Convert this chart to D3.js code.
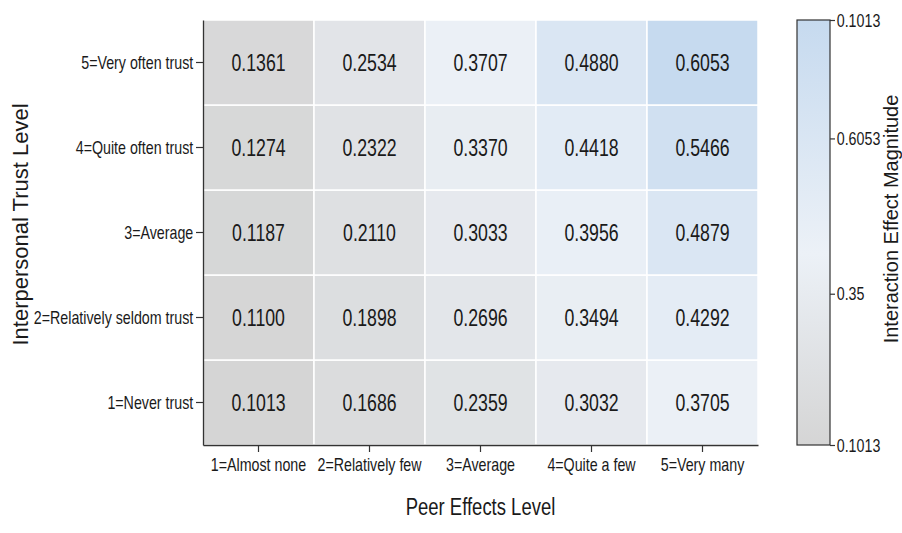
<!DOCTYPE html>
<html>
<head>
<meta charset="utf-8">
<script src="https://cdn.jsdelivr.net/npm/d3@7"></script>
<style>
  body { margin: 0; background: #fff; }
  text { font-family: "Liberation Sans", Arial, sans-serif; }
</style>
</head>
<body>
<div id="chart"></div>
<script>
// categories
const peerLevels = ["1=Almost none", "2=Relatively few", "3=Average", "4=Quite a few", "5=Very many"];
const trustLevels = ["1=Never trust", "2=Relatively seldom trust", "3=Average", "4=Quite often trust", "5=Very often trust"];

// interaction effect values, one array per trust level (columns = peer levels)
const trust1 = [0.1013, 0.1686, 0.2359, 0.3032, 0.3705];
const trust2 = [0.1100, 0.1898, 0.2696, 0.3494, 0.4292];
const trust3 = [0.1187, 0.2110, 0.3033, 0.3956, 0.4879];
const trust4 = [0.1274, 0.2322, 0.3370, 0.4418, 0.5466];
const trust5 = [0.1361, 0.2534, 0.3707, 0.4880, 0.6053];

// colour bar ticks (labels as printed in the figure)
const cbTickVals = [0.1013, 0.35, 0.6053, 0.80];
const cbTickLabels = ["0.1013", "0.35", "0.6053", "0.1013"];

const width = 902, height = 533;
const margin = { left: 203, top: 20, right: 144, bottom: 88 };
const squeeze = 0.77; // no narrow font installed -> condense horizontally
const tickSqueeze = 0.75;

const svg = d3.select("#chart").append("svg")
  .attr("width", width)
  .attr("height", height);

const rows = [trust1, trust2, trust3, trust4, trust5];
const cells = [];
rows.forEach((r, i) => r.forEach((v, j) => cells.push({ trust: trustLevels[i], peer: peerLevels[j], value: v })));

const x = d3.scaleBand().domain(peerLevels).range([margin.left, width - margin.right]);
const y = d3.scaleBand().domain(trustLevels.slice().reverse()).range([margin.top, height - margin.bottom]);

const allVals = cells.map(d => d.value);
const vMin = d3.min(allVals), vMax = d3.max(allVals);
const colorStops = ["#d5d5d5", "#ecf1f7", "#c6daef"];
const color = d3.scaleLinear()
  .domain([vMin, 0.38, vMax])
  .range(colorStops)
  .interpolate(d3.interpolateRgb);

// cells
svg.append("g").selectAll("rect")
  .data(cells)
  .enter().append("rect")
  .attr("x", d => x(d.peer))
  .attr("y", d => y(d.trust))
  .attr("width", x.bandwidth())
  .attr("height", y.bandwidth())
  .attr("fill", d => color(d.value))
  .attr("stroke", "#fff")
  .attr("stroke-width", 1.5);

svg.append("g").selectAll("text")
  .data(cells)
  .enter().append("text")
  .attr("transform", d => `translate(${x(d.peer) + x.bandwidth() / 2},${y(d.trust) + y.bandwidth() / 2}) scale(${squeeze},1)`)
  .attr("dy", "0.36em")
  .attr("text-anchor", "middle")
  .attr("font-size", 23)
  .attr("fill", "#1a1a1a")
  .text(d => d.value.toFixed(4));

// axes
const xAxis = svg.append("g")
  .attr("transform", `translate(0,${height - margin.bottom})`)
  .call(d3.axisBottom(x).tickSize(7).tickSizeOuter(0).tickPadding(6));
const yAxis = svg.append("g")
  .attr("transform", `translate(${margin.left},0)`)
  .call(d3.axisLeft(y).tickSize(7).tickSizeOuter(0).tickPadding(6));

[xAxis, yAxis].forEach(g => {
  g.select(".domain").attr("stroke", "#333").attr("stroke-width", 1.3);
  g.selectAll(".tick line").attr("stroke", "#333").attr("stroke-width", 1.2);
  g.selectAll(".tick text")
    .attr("font-size", 19)
    .attr("fill", "#1a1a1a")
    .attr("transform", `scale(${tickSqueeze},1)`);
});

// axis titles
svg.append("text")
  .attr("transform", `translate(${(margin.left + width - margin.right) / 2},515) scale(${squeeze},1)`)
  .attr("text-anchor", "middle")
  .attr("font-size", 24)
  .attr("fill", "#1a1a1a")
  .text("Peer Effects Level");

svg.append("text")
  .attr("transform", `translate(28,${(margin.top + height - margin.bottom) / 2 - 8}) rotate(-90)`)
  .attr("text-anchor", "middle")
  .attr("font-size", 22)
  .attr("fill", "#1a1a1a")
  .text("Interpersonal Trust Level");

// colour bar
const cbX = 797, cbW = 33;
const cbScale = d3.scaleLinear().domain([vMin, 0.80]).range([height - margin.bottom, margin.top]);

const defs = svg.append("defs");
const grad = defs.append("linearGradient")
  .attr("id", "cbGrad")
  .attr("x1", 0).attr("y1", 1).attr("x2", 0).attr("y2", 0);
grad.selectAll("stop")
  .data(colorStops)
  .enter().append("stop")
  .attr("offset", (d, i) => [0, 0.45, 1][i])
  .attr("stop-color", d => d);

svg.append("rect")
  .attr("x", cbX)
  .attr("y", cbScale(0.80))
  .attr("width", cbW)
  .attr("height", cbScale(vMin) - cbScale(0.80))
  .attr("fill", "url(#cbGrad)")
  .attr("stroke", "#333")
  .attr("stroke-width", 1.2);

const cbAxis = svg.append("g")
  .attr("transform", `translate(${cbX + cbW},0)`)
  .call(d3.axisRight(cbScale)
    .tickValues(cbTickVals)
    .tickFormat((d, i) => cbTickLabels[i])
    .tickSize(5)
    .tickPadding(4));
cbAxis.select(".domain").remove();
cbAxis.selectAll(".tick line").attr("stroke", "#333").attr("stroke-width", 1.2);
cbAxis.selectAll(".tick text")
  .attr("font-size", 19)
  .attr("fill", "#1a1a1a")
  .attr("transform", `scale(${tickSqueeze},1)`);

svg.append("text")
  .attr("transform", `translate(898,219) rotate(-90)`)
  .attr("text-anchor", "middle")
  .attr("font-size", 20)
  .attr("fill", "#1a1a1a")
  .text("Interaction Effect Magnitude");
</script>
</body>
</html>
